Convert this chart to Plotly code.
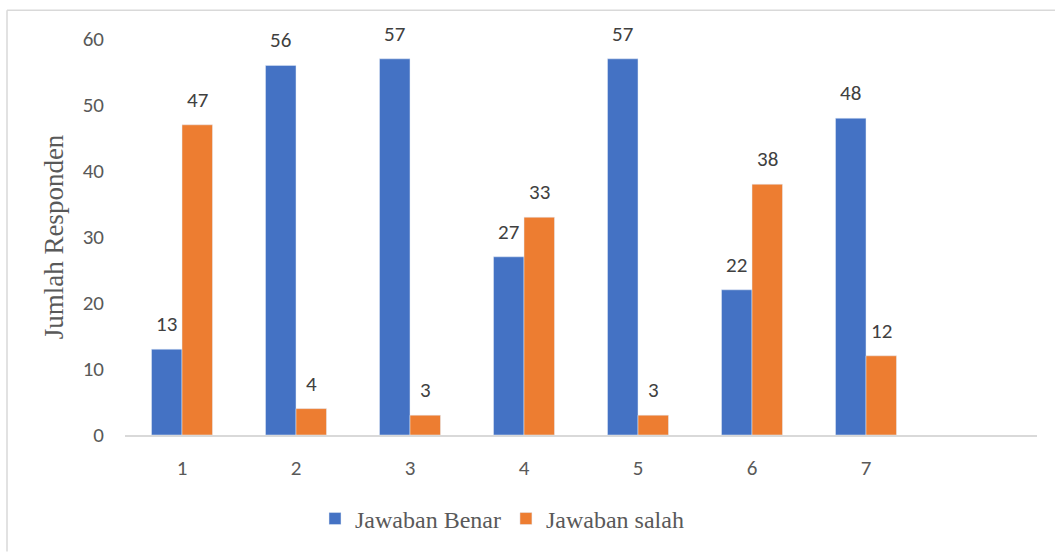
import plotly.graph_objects as go

categories = [1, 2, 3, 4, 5, 6, 7]
benar = [13, 56, 57, 27, 57, 22, 48]
salah = [47, 4, 3, 33, 3, 38, 12]
series_names = ["Jawaban Benar", "Jawaban salah"]
y_ticks = [0, 10, 20, 30, 40, 50, 60]

W, H = 1055, 553
ml, mr, mt, mb = 125, 18, 39, 113
pw = W - ml - mr
ph = H - mt - mb
cat_px = pw / 8.0
bar_px = 30.5

sans = "Carlito, Lato, 'Open Sans', sans-serif"
serif = "'Liberation Serif', 'Times New Roman', serif"
label_font = dict(family=sans, size=21, color="#404040")

fig = go.Figure()
fig.add_trace(go.Bar(x=categories, y=benar, name=series_names[0], marker_color="#4472C4"))
fig.add_trace(go.Bar(x=categories, y=salah, name=series_names[1], marker_color="#ED7D31"))

annotations = []
for vals, sign in ((benar, -1), (salah, 1)):
    for c, v in zip(categories, vals):
        annotations.append(dict(x=c, y=v, xref="x", yref="y", text=str(v), showarrow=False,
                                xanchor="center", yanchor="bottom", xshift=sign * bar_px / 2,
                                yshift=10, font=label_font))

fig.update_layout(
    width=W, height=H,
    margin=dict(l=ml, r=mr, t=mt, b=mb),
    paper_bgcolor="white", plot_bgcolor="white",
    barmode="group", bargap=1 - 2 * bar_px / cat_px, bargroupgap=0,
    showlegend=True,
    legend=dict(orientation="h", x=(315 - ml) / pw, xanchor="left", y=-(525 - 440) / ph, yanchor="middle",
                font=dict(family=serif, size=24, color="#595959"),
                itemwidth=30, tracegroupgap=0),
    xaxis=dict(range=[0.5, 8.5], tickvals=categories, ticktext=[str(c) for c in categories],
               showgrid=False, showline=True, linecolor="#D9D9D9", linewidth=2, ticks="",
               tickfont=dict(family=sans, size=21, color="#595959"),
               ticklabelstandoff=13, zeroline=False),
    yaxis=dict(range=[0, 60], tickvals=y_ticks, showgrid=False, showline=False, zeroline=False, ticks="",
               tickfont=dict(family=sans, size=21, color="#595959"),
               ticklabelstandoff=20,
               title=dict(text="Jumlah Responden", standoff=11,
                          font=dict(family=serif, size=27, color="#595959"))),
    annotations=annotations,
    shapes=[
        dict(type="line", xref="paper", yref="paper",
             x0=(7 - ml) / pw, x1=(7 - ml) / pw, y0=(H - mb - 10) / ph, y1=-(mb + 5) / ph,
             line=dict(color="#D9D9D9", width=1.5)),
        dict(type="line", xref="paper", yref="paper",
             x0=(7 - ml) / pw, x1=(W + 5 - ml) / pw, y0=(H - mb - 10) / ph, y1=(H - mb - 10) / ph,
             line=dict(color="#D9D9D9", width=1.5)),
    ],
)

fig.write_html("out.html", config={"displayModeBar": False},
               post_script="document.body.style.margin='0';document.body.style.overflow='hidden';")
